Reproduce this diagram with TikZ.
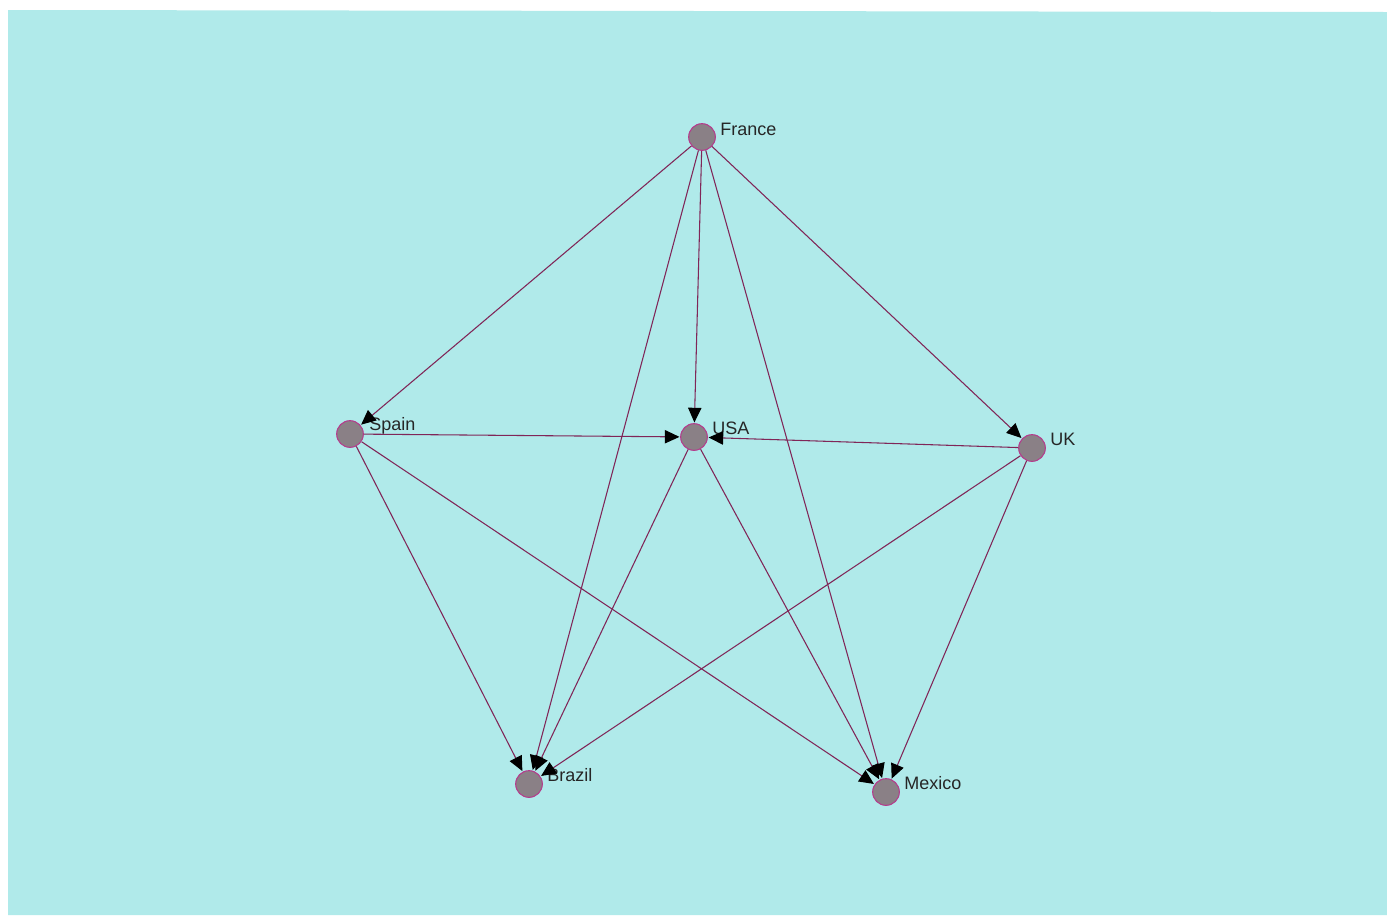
\documentclass[tikz,border=0pt]{standalone}
\usepackage{fontspec}
\setmainfont{Liberation Sans}
\usetikzlibrary{arrows.meta}
\definecolor{bgc}{RGB}{176,234,234}
\definecolor{edgec}{RGB}{128,38,88}
\definecolor{nodefill}{RGB}{138,128,134}
\definecolor{nodeborder}{RGB}{180,60,140}
\begin{document}
\begin{tikzpicture}[x=0.75pt,y=-0.75pt,
  vert/.style={circle,fill=nodefill,draw=nodeborder,line width=0.8pt,minimum size=20pt,inner sep=0pt},
  lbl/.style={anchor=west,font=\fontsize{13.5}{15}\selectfont,text=black!85,inner sep=0pt},
  edge/.style={draw=edgec,line width=0.8pt,-{Triangle[length=11pt,width=10pt,color=black]},shorten >=0.5pt}]
\fill[white] (0,0) rectangle (1387,915);
\fill[bgc] (8,10) -- (1387,12) -- (1387,915) -- (8,915) -- cycle;
\useasboundingbox (0,0) rectangle (1387,915);
\node[vert] (F) at (702,137) {};
\node[vert] (S) at (350,434) {};
\node[vert] (U) at (694,437) {};
\node[vert] (K) at (1032,448) {};
\node[vert] (B) at (529,784) {};
\node[vert] (M) at (886,792) {};
\node[lbl] (lF) at (720,129) {France};
\node[lbl] (lS) at (369,426) {Spain};
\node[lbl] (lU) at (712,428) {USA};
\node[lbl] (lK) at (1050,439) {UK};
\node[lbl] (lB) at (547,775) {Brazil};
\node[lbl] (lM) at (904,783) {Mexico};
\draw[edge] (F) -- (S);
\draw[edge] (F) -- (U);
\draw[edge] (F) -- (K);
\draw[edge] (F) -- (B);
\draw[edge] (F) -- (M);
\draw[edge] (S) -- (U);
\draw[edge] (S) -- (B);
\draw[edge] (S) -- (M);
\draw[edge] (K) -- (U);
\draw[edge] (K) -- (B);
\draw[edge] (K) -- (M);
\draw[edge] (U) -- (B);
\draw[edge] (U) -- (M);
\end{tikzpicture}
\end{document}
